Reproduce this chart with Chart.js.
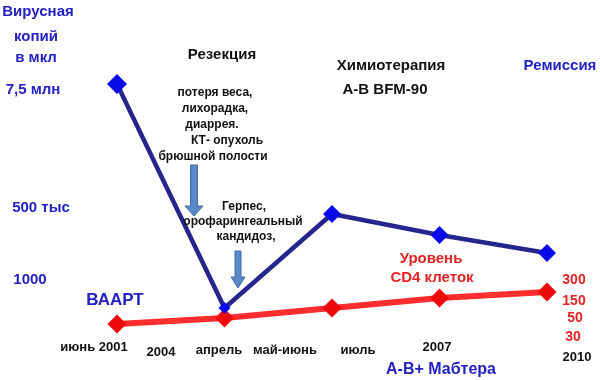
<!DOCTYPE html>
<html>
<head>
<meta charset="utf-8">
<script src="https://cdn.jsdelivr.net/npm/chart.js@4"></script>
<style>
  html, body { margin: 0; padding: 0; background: #ffffff; }
  #wrap { width: 600px; height: 380px; }
</style>
</head>
<body>
<div id="wrap"><canvas id="c" width="600" height="380"></canvas></div>
<script>
// ---- data ----
const stages = [0, 1, 2, 3, 4];                 // timeline stages
const viralLoad = [296, 72, 166, 145, 127];     // relative level (blue)
const cd4Level = [56, 62, 72, 82, 88];          // relative level (red)
const xTickLabels = ['июнь 2001', '2004', 'апрель', 'май-июнь', 'июль', '2007', '2010'];
const yTickLabels = ['7,5 млн', '500 тыс', '1000'];
const cd4Labels = ['300', '150', '50', '30'];

const BLUE_TXT = '#2222c2';
const RED_TXT = '#e42424';
const FONT = '"Liberation Sans", Arial, sans-serif';

const annotations = {
  id: 'annotations',
  afterDatasetsDraw(chart) {
    const ctx = chart.ctx;
    ctx.save();
    ctx.textAlign = 'center';
    ctx.textBaseline = 'middle';
    const t = (s, x, y, size, color) => {
      ctx.font = 'bold ' + size + 'px ' + FONT;
      ctx.fillStyle = color;
      ctx.fillText(s, x, y);
    };
    // axis titles / ticks
    t('Вирусная', 38, 12, 15, BLUE_TXT);
    t('копий', 36, 37, 15, BLUE_TXT);
    t('в мкл', 36, 58, 15, BLUE_TXT);
    const yPos = [[33, 90], [41, 208], [30, 280]];
    yTickLabels.forEach((s, i) => t(s, yPos[i][0], yPos[i][1], 15, BLUE_TXT));
    const xPos = [[94, 347], [161, 352], [219, 350], [285, 350], [358, 350], [437, 347], [577, 357]];
    xTickLabels.forEach((s, i) => t(s, xPos[i][0], xPos[i][1], 13, '#111111'));
    const cPos = [[574, 280], [574, 301], [575, 318], [573, 337]];
    cd4Labels.forEach((s, i) => t(s, cPos[i][0], cPos[i][1], 14, RED_TXT));

    // annotations
    t('Резекция', 222, 55, 15, '#111111');
    t('потеря веса,', 215, 93, 12, '#111111');
    t('лихорадка,', 215, 109, 12, '#111111');
    t('диаррея.', 212, 125, 12, '#111111');
    t('КТ- опухоль', 227, 141, 12, '#111111');
    t('брюшной полости', 213, 157, 12, '#111111');
    t('Химиотерапия', 391, 66, 15, '#111111');
    t('А-В BFM-90', 385, 90, 15, '#111111');
    t('Ремиссия', 560, 66, 15, BLUE_TXT);
    t('Герпес,', 244, 207, 12, '#111111');
    t('орофарингеальный', 243, 222, 12, '#111111');
    t('кандидоз,', 246, 237, 12, '#111111');
    t('ВААРТ', 115, 300, 17, BLUE_TXT);
    t('Уровень', 431, 259, 15, RED_TXT);
    t('CD4 клеток', 432, 278, 15, RED_TXT);
    t('А-В+ Мабтера', 441, 370, 16, BLUE_TXT);

    // arrows
    const arrow = (cx, top, headTop, tip, sw, hw) => {
      ctx.beginPath();
      ctx.moveTo(cx - sw, top);
      ctx.lineTo(cx + sw, top);
      ctx.lineTo(cx + sw, headTop);
      ctx.lineTo(cx + hw, headTop);
      ctx.lineTo(cx, tip);
      ctx.lineTo(cx - hw, headTop);
      ctx.lineTo(cx - sw, headTop);
      ctx.closePath();
      ctx.fillStyle = '#5b88c6';
      ctx.fill();
      ctx.strokeStyle = '#3f6ca8';
      ctx.lineWidth = 1;
      ctx.stroke();
    };
    arrow(194, 165, 206, 216, 3.5, 9);
    arrow(238, 251, 277, 288, 3, 7);
    ctx.restore();
  }
};

new Chart(document.getElementById('c'), {
  type: 'line',
  data: {
    datasets: [
      {
        data: stages.map((x, i) => ({ x, y: viralLoad[i] })),
        borderColor: '#25258e',
        borderWidth: 4.5,
        pointStyle: 'rectRot',
        pointRadius: [10, 6, 9, 9, 9],
        pointBackgroundColor: '#0a0ae8',
        pointBorderColor: '#0a0ae8',
        pointBorderWidth: 0,
        tension: 0,
        clip: false
      },
      {
        data: stages.map((x, i) => ({ x, y: cd4Level[i] })),
        borderColor: '#ff2d2d',
        borderWidth: 6,
        pointStyle: 'rectRot',
        pointRadius: 9.5,
        pointBackgroundColor: '#ee0a0a',
        pointBorderColor: '#ee0a0a',
        pointBorderWidth: 0,
        tension: 0,
        clip: false
      }
    ]
  },
  options: {
    responsive: false,
    animation: false,
    devicePixelRatio: 1,
    layout: { autoPadding: false, padding: { left: 117, right: 53, top: 0, bottom: 0 } },
    plugins: { legend: { display: false }, tooltip: { enabled: false } },
    scales: {
      x: { type: 'linear', min: 0, max: 4, display: false },
      y: { type: 'linear', min: 0, max: 380, display: false }
    }
  },
  plugins: [annotations]
});
</script>
</body>
</html>
